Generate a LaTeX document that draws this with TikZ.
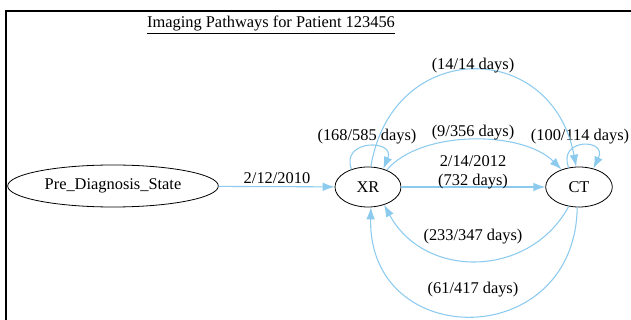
\documentclass[tikz,border=0pt]{standalone}
\usepackage{fontspec}
\setmainfont{Liberation Serif}
\usetikzlibrary{shapes.geometric,arrows.meta}
\definecolor{pathblue}{RGB}{140,202,238}
\begin{document}
\begin{tikzpicture}[x=0.75pt,y=-0.75pt,
	font=\fontsize{12.3}{14}\selectfont,
	state/.style={draw,ellipse,semithick,inner sep=0pt},
	path/.style={draw=pathblue,thick,-{Latex[length=9pt,width=6.5pt]}},
	lbl/.style={inner sep=1pt,align=center}]
		\useasboundingbox (0,0) rectangle (631,320);
		\draw[line width=1.2pt] (6,320) -- (6,11) -- (631,11);
		\node[lbl] (title) at (271,25) {\underline{Imaging Pathways for Patient 123456}};
		% states
		\node[state,minimum width=158pt,minimum height=31.5pt] (pre) at (113,186) {Pre\_Diagnosis\_State};
		\node[state,minimum width=49.5pt,minimum height=30pt] (xr) at (368,187) {XR};
		\node[state,minimum width=50pt,minimum height=30pt] (ct) at (579,187) {CT};
		% transitions
		\draw[path] (pre) -- (xr);
		\node[lbl] (l1) at (277,178) {2/12/2010};
		\draw[path] (xr) -- (ct);
		\node[lbl] (l2) at (473,172) {2/14/2012\\(732 days)};
		\draw[path] (xr.133) .. controls (340,139) and (396,139) .. (xr.50);
		\node[lbl] (l3) at (367,137) {(168/585 days)};
		\draw[path] (ct.118) .. controls (557,138) and (608,138) .. (ct.52);
		\node[lbl] (l4) at (580,137) {(100/114 days)};
		\draw[path] (xr.42) .. controls (420,130) and (522,130) .. (ct.135);
		\node[lbl] (l5) at (473,133) {(9/356 days)};
		\draw[path] (xr.82) .. controls (392,38) and (552,38) .. (ct.98);
		\node[lbl] (l6) at (473,66) {(14/14 days)};
		\draw[path] (ct.-118) .. controls (530,278) and (425,280) .. (xr.-48);
		\node[lbl] (l7) at (473,237) {(233/347 days)};
		\draw[path] (ct.-95) .. controls (575,352) and (368,352) .. (xr.-82);
		\node[lbl] (l8) at (473,290) {(61/417 days)};
	\end{tikzpicture}
\end{document}
